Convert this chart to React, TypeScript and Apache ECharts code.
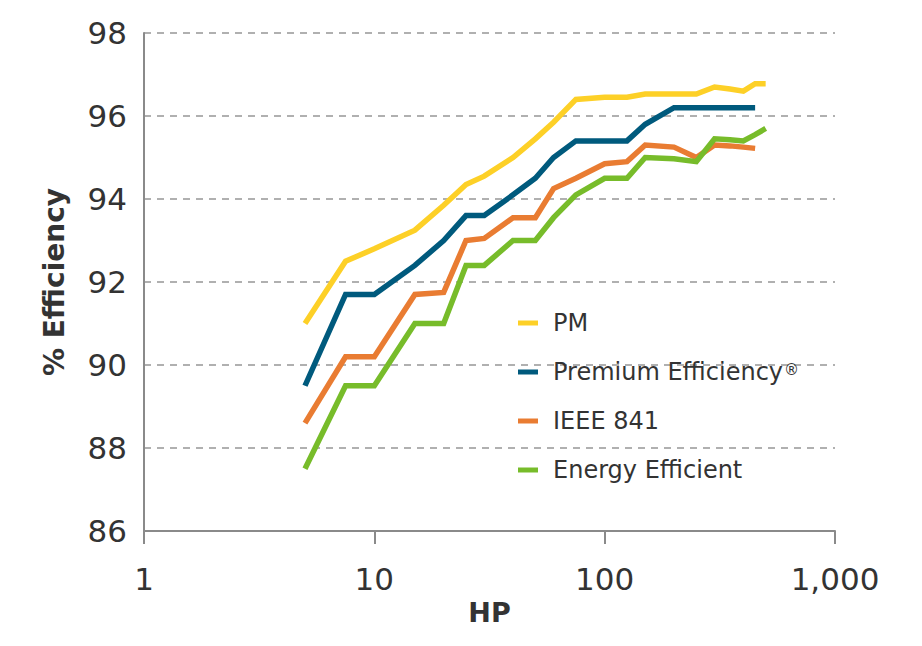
import React, { useEffect, useRef } from "react";
import * as echarts from "echarts";

const hpValues = [5, 7.5, 10, 15, 20, 25, 30, 40, 50, 60, 75, 100, 125, 150, 200, 250, 300, 350, 400, 450, 500];

const pmValues = [91.0, 92.5, 92.8, 93.25, 93.85, 94.35, 94.55, 95.0, 95.45, 95.85, 96.4, 96.45, 96.45, 96.53, 96.53, 96.53, 96.7, 96.65, 96.6, 96.78, 96.78];
const premiumValues = [89.5, 91.7, 91.7, 92.4, 93.0, 93.6, 93.6, 94.1, 94.5, 95.0, 95.4, 95.4, 95.4, 95.8, 96.2, 96.2, 96.2, 96.2, 96.2, 96.2, null];
const ieeeValues = [88.6, 90.2, 90.2, 91.7, 91.75, 93.0, 93.05, 93.55, 93.55, 94.25, 94.5, 94.85, 94.9, 95.3, 95.25, 95.0, 95.3, 95.28, 95.25, 95.22, null];
const energyValues = [87.5, 89.5, 89.5, 91.0, 91.0, 92.4, 92.4, 93.0, 93.0, 93.55, 94.1, 94.5, 94.5, 95.0, 94.97, 94.9, 95.45, 95.43, 95.4, 95.55, 95.7];

const seriesNames = ["PM", "Premium Efficiency®", "IEEE 841", "Energy Efficient"];
const seriesColors = ["#FDD027", "#005A7D", "#E97C32", "#77BC2A"];

const yTicks = { min: 86, max: 98, interval: 2 };
const xTicks = { min: 1, max: 1000 };

const FONT = "'DejaVu Sans', 'Open Sans', sans-serif";
const TEXT = "#333333";

function toPairs(vals: (number | null)[]) {
  return hpValues.map((h, i) => [h, vals[i]]);
}

export default function App() {
  const ref = useRef<HTMLDivElement>(null);
  useEffect(() => {
    document.body.style.margin = "0";
    if (!ref.current) return;
    const chart = echarts.init(ref.current, undefined, { renderer: "svg" });
    const allVals = [pmValues, premiumValues, ieeeValues, energyValues];
    chart.setOption({
      animation: false,
      backgroundColor: "#ffffff",
      grid: { left: 144, right: 87, top: 33, bottom: 115, containLabel: false },
      legend: {
        orient: "vertical",
        left: 518,
        top: 311,
        padding: 0,
        itemWidth: 20,
        itemHeight: 5,
        itemGap: 25,
        icon: "rect",
        data: seriesNames,
        formatter: (name: string) => name.replace("®", "{r|®}"),
        textStyle: {
          fontFamily: FONT,
          fontSize: 24,
          color: TEXT,
          lineHeight: 24,
          padding: [0, 0, 0, 10],
          rich: {
            r: { fontFamily: FONT, fontSize: 15, color: TEXT, lineHeight: 24, padding: [0, 0, 4, 1] },
          },
        },
      },
      xAxis: {
        type: "log",
        logBase: 10,
        min: xTicks.min,
        max: xTicks.max,
        name: "HP",
        nameLocation: "middle",
        nameGap: 65,
        nameTextStyle: { fontFamily: FONT, fontSize: 27, fontWeight: "bold", color: TEXT },
        axisLine: { show: true, lineStyle: { color: "#8a8a8a", width: 2 } },
        axisTick: { show: true, length: 13, inside: false, lineStyle: { color: "#8a8a8a", width: 2 } },
        minorTick: { show: false },
        splitLine: { show: false },
        axisLabel: {
          fontFamily: FONT,
          fontSize: 31,
          color: TEXT,
          margin: 32,
          formatter: (v: number) => {
            const r = Math.round(v);
            return r >= 1000 ? r.toLocaleString("en-US") : String(r);
          },
        },
      },
      yAxis: {
        type: "value",
        min: yTicks.min,
        max: yTicks.max,
        interval: yTicks.interval,
        name: "% Efficiency",
        nameLocation: "middle",
        nameGap: 76,
        nameTextStyle: { fontFamily: FONT, fontSize: 28, fontWeight: "bold", color: TEXT },
        axisLine: { show: true, lineStyle: { color: "#8a8a8a", width: 2 } },
        axisTick: { show: false },
        splitLine: { show: true, lineStyle: { color: "#b0b0b0", width: 2, type: [7, 6] } },
        axisLabel: { fontFamily: FONT, fontSize: 31, color: TEXT, margin: 17 },
      },
      series: seriesNames.map((name, i) => ({
        name,
        type: "line",
        data: toPairs(allVals[i]),
        showSymbol: false,
        symbol: "none",
        color: seriesColors[i],
        lineStyle: { color: seriesColors[i], width: 5.5, cap: "butt", join: "miter" },
        itemStyle: { color: seriesColors[i] },
      })),
    });
    return () => chart.dispose();
  }, []);
  return <div ref={ref} style={{ width: 922, height: 646 }} />;
}
